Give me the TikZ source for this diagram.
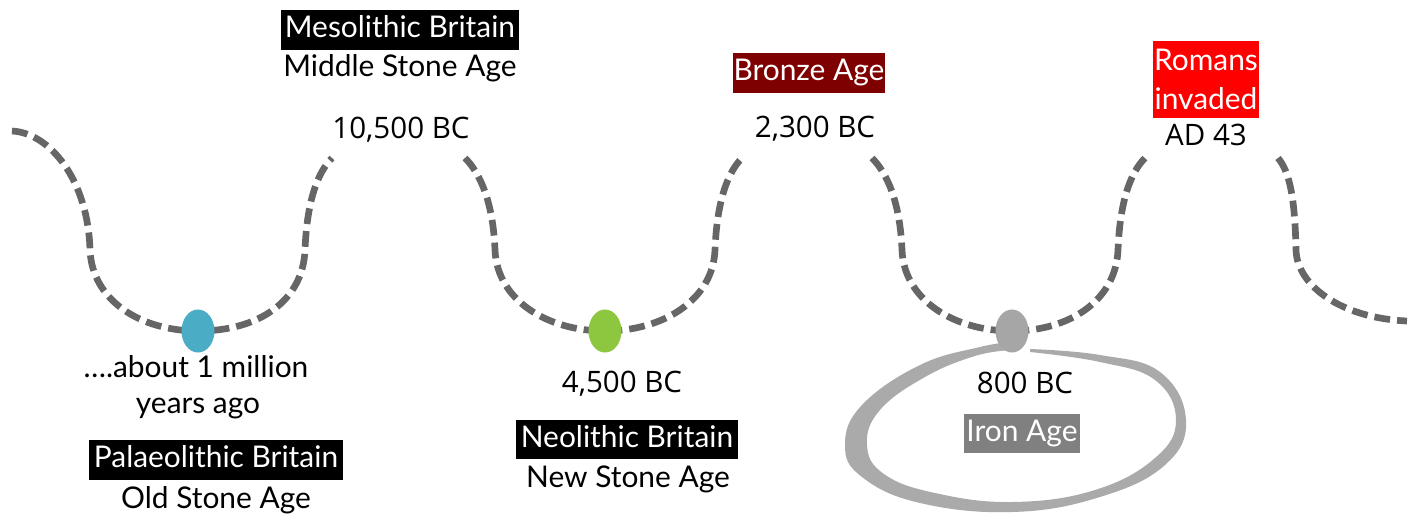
\documentclass[tikz,border=0pt]{standalone}
\usepackage{fontspec}
\setmainfont{Lato}
\newfontfamily\datefont{Open Sans}
\usetikzlibrary{shapes.geometric}
\definecolor{wavegrey}{HTML}{666666}
\definecolor{dotblue}{HTML}{4BACC6}
\definecolor{dotgreen}{HTML}{8DC63F}
\definecolor{dotgrey}{HTML}{A6A6A6}
\definecolor{ringgrey}{HTML}{AAAAAA}
\definecolor{bronzered}{HTML}{7F0000}
\definecolor{romanred}{HTML}{FF0000}
\definecolor{irongrey}{HTML}{808080}
\begin{document}
\begin{tikzpicture}[x=0.01cm,y=-0.01cm,
  wave/.style={draw=wavegrey, line width=1.9pt, dash pattern=on 4.5pt off 2pt},
  dotnode/.style={ellipse, minimum width=0.33cm, minimum height=0.43cm, inner sep=0pt},
  datetext/.style={anchor=base, inner sep=0pt, font=\datefont\fontsize{8.4pt}{10pt}\selectfont},
  plaintext/.style={anchor=base, inner sep=0pt, font=\fontsize{8.5pt}{11pt}\selectfont},
  tagbox/.style={font=\fontsize{8.5pt}{11pt}\selectfont, text=white, inner sep=0pt, text height=6.3pt, text depth=1.8pt}
]
\useasboundingbox (0,0) rectangle (1411,521);

% wave
\draw[wave] (12,131) .. controls (50,133) and (88,180) .. (90,250)
  .. controls (92,300) and (140,331) .. (198,331)
  .. controls (260,331) and (303,300) .. (305,250)
  .. controls (307,200) and (318,172) .. (332,158);
\draw[wave] (465,158) .. controls (479,172) and (493,200) .. (495,250)
  .. controls (497,300) and (547,331) .. (605,331)
  .. controls (663,331) and (713,300) .. (715,250)
  .. controls (717,200) and (728,172) .. (742,158);
\draw[wave] (872,158) .. controls (886,172) and (900,200) .. (902,250)
  .. controls (904,300) and (954,331) .. (1012,331)
  .. controls (1070,331) and (1116,300) .. (1118,250)
  .. controls (1120,200) and (1131,172) .. (1145,158);
\draw[wave] (1278,158) .. controls (1290,172) and (1295,200) .. (1296,250)
  .. controls (1297,285) and (1340,318) .. (1407,321);

% hand-drawn ring round the Iron Age
\fill[ringgrey] plot[smooth, tension=0.7] coordinates {(1030,349) (1100,355) (1160,372) (1186,420) (1165,465) (1100,497) (1013,512) (920,503) (862,477) (845,445) (862,405) (920,365) (980,347) (1012,342)}
  -- plot[smooth, tension=0.7] coordinates {(1012,350) (975,356) (925,377) (880,410) (867,445) (884,474) (935,493) (1013,502) (1095,490) (1155,458) (1176,420) (1155,380) (1100,362) (1030,352)} -- cycle;

% dots
\node[dotnode, fill=dotblue] (palaeo) at (198,331) {};
\node[dotnode, fill=dotgreen] (neo) at (605,331) {};
\node[dotnode, fill=dotgrey] (iron) at (1012,331) {};

% Mesolithic
\node[tagbox, fill=black, minimum width=2.38cm, minimum height=0.40cm] (mesotag) at (400,30) {Mesolithic Britain};
\node[plaintext] (mesosub) at (400,77) {Middle Stone Age};
\node[datetext] (mesodate) at (401,138) {10,500 BC};

% Bronze
\node[tagbox, fill=bronzered, minimum width=1.52cm, minimum height=0.40cm] (bronzetag) at (809,73) {Bronze Age};
\node[datetext] (bronzedate) at (815,137) {2,300 BC};

% Romans
\node[font=\fontsize{8.5pt}{11.1pt}\selectfont, text=white, fill=romanred, align=center, inner sep=0pt, minimum width=1.05cm, minimum height=0.77cm] (romantag) at (1206,79.5) {Romans\\invaded};
\node[datetext] (romandate) at (1206,145) {AD 43};

% Palaeolithic
\node[plaintext] (palaeodate1) at (196,377) {….about 1 million};
\node[plaintext] (palaeodate2) at (198,413) {years ago};
\node[tagbox, fill=black, minimum width=2.54cm, minimum height=0.40cm] (palaeotag) at (216,460) {Palaeolithic Britain};
\node[plaintext] (palaeosub) at (216,508) {Old Stone Age};

% Neolithic
\node[datetext] (neodate) at (622,392) {4,500 BC};
\node[tagbox, fill=black, minimum width=2.21cm, minimum height=0.39cm] (neotag) at (627,439.5) {Neolithic Britain};
\node[plaintext] (neosub) at (628,487) {New Stone Age};

% Iron
\node[datetext] (irondate) at (1025,393) {800 BC};
\node[tagbox, fill=irongrey, minimum width=1.16cm, minimum height=0.39cm] (irontag) at (1022,433.5) {Iron Age};
\end{tikzpicture}
\end{document}
